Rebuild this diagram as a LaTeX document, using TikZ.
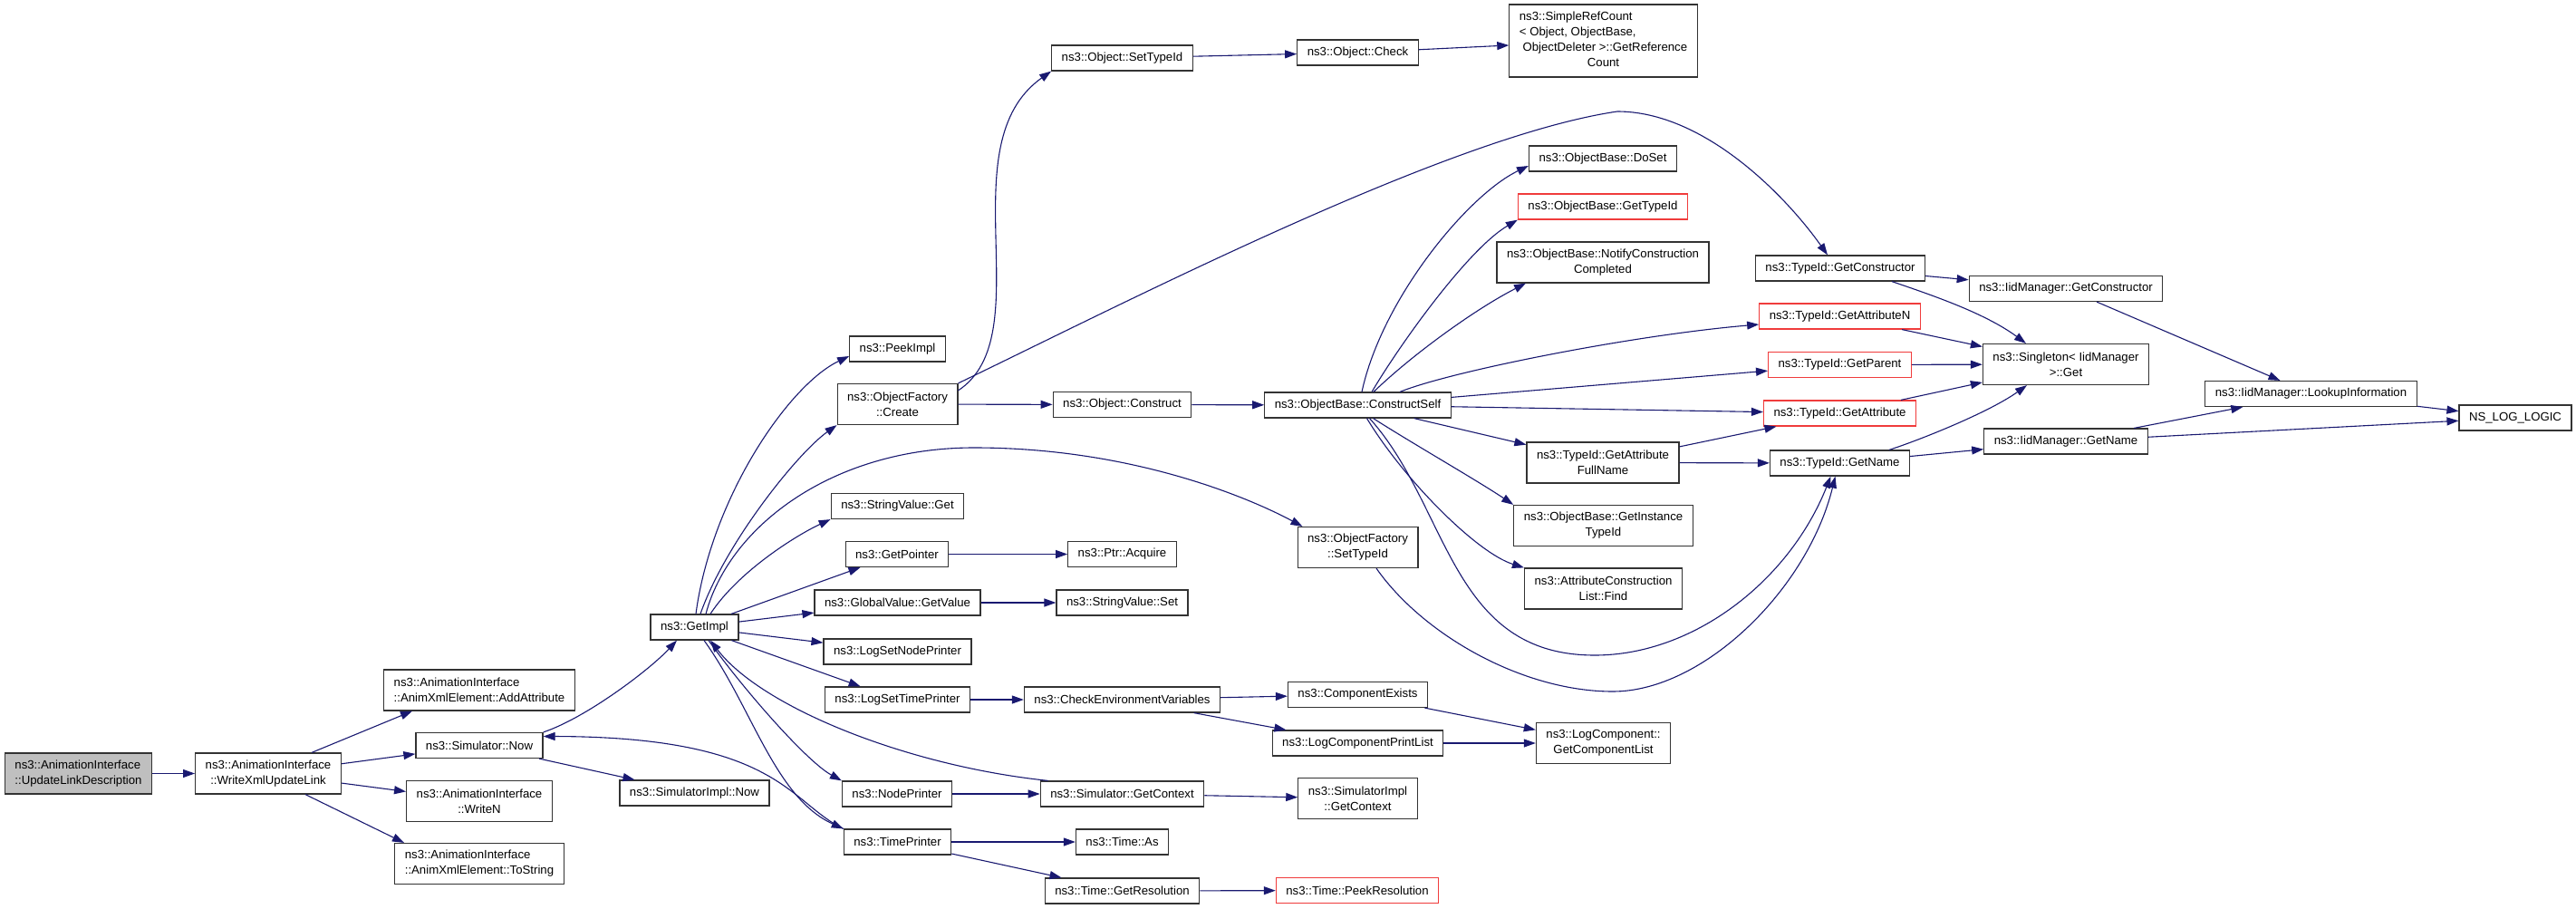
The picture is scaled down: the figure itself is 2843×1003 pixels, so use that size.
\documentclass[tikz,border=0pt]{standalone}
\usepackage{fontspec}
\setmainfont{Liberation Sans}
\usetikzlibrary{arrows.meta}

\definecolor{edgeblue}{HTML}{191970}
\definecolor{boxgray}{HTML}{333333}
\definecolor{boxred}{HTML}{F03C3C}
\definecolor{rootfill}{HTML}{BFBFBF}

\tikzset{
  fn/.style={draw=boxgray,line width=1.2pt,rectangle,inner xsep=11pt,inner ysep=3pt,
    minimum height=28pt,font=\fontsize{13.2}{17}\selectfont,align=center},
  dbl/.style={minimum height=45pt},
  undoc/.style={draw=boxred},
  root/.style={fill=rootfill},
  call/.style={->,draw=edgeblue,line width=1.1pt},
}

\begin{document}
\begin{tikzpicture}[x=1pt,y=-1pt,>={Triangle[length=13pt,width=9pt]}]
      \useasboundingbox (0,0) rectangle (2843,1003);
      % Caller and first level
      \node[fn,dbl,root,align=left] (uld) at (86.5,853.5) {ns3::AnimationInterface\\::UpdateLinkDescription};
      \node[fn,dbl] (wxul) at (296,853.5) {ns3::AnimationInterface\\::WriteXmlUpdateLink};
      \node[fn,dbl,align=left] (addattr) at (529,761.5) {ns3::AnimationInterface\\::AnimXmlElement::AddAttribute};
      \node[fn] (simnow) at (529,822.5) {ns3::Simulator::Now};
      \node[fn,dbl] (writen) at (529,884) {ns3::AnimationInterface\\::WriteN};
      \node[fn,dbl,align=left] (tostring) at (529,953) {ns3::AnimationInterface\\::AnimXmlElement::ToString};
      \node[fn] (getimpl) at (766.5,692) {ns3::GetImpl};
      \node[fn] (simimplnow) at (766.5,875) {ns3::SimulatorImpl::Now};
      % Called by GetImpl
      \node[fn] (peekimpl) at (990.5,385) {ns3::PeekImpl};
      \node[fn,dbl] (ofcreate) at (990.5,446) {ns3::ObjectFactory\\::Create};
      \node[fn] (svget) at (990.5,558.5) {ns3::StringValue::Get};
      \node[fn] (getpointer) at (990,611.5) {ns3::GetPointer};
      \node[fn] (gvgetvalue) at (990.5,665) {ns3::GlobalValue::GetValue};
      \node[fn] (logsetnode) at (990.5,719) {ns3::LogSetNodePrinter};
      \node[fn] (logsettime) at (990.5,772) {ns3::LogSetTimePrinter};
      \node[fn] (nodeprinter) at (990,876) {ns3::NodePrinter};
      \node[fn] (timeprinter) at (990.5,929) {ns3::TimePrinter};
      % Next column
      \node[fn] (objsettypeid) at (1238.5,64) {ns3::Object::SetTypeId};
      \node[fn] (objconstruct) at (1238.5,446.5) {ns3::Object::Construct};
      \node[fn] (ptracquire) at (1238.5,611.5) {ns3::Ptr::Acquire};
      \node[fn] (svset) at (1238.5,665) {ns3::StringValue::Set};
      \node[fn] (checkenv) at (1238.5,772) {ns3::CheckEnvironmentVariables};
      \node[fn] (simgetctx) at (1238.5,876) {ns3::Simulator::GetContext};
      \node[fn] (timeas) at (1238.5,929) {ns3::Time::As};
      \node[fn] (timegetres) at (1238.5,983) {ns3::Time::GetResolution};
      % Middle column
      \node[fn] (objcheck) at (1498.5,58) {ns3::Object::Check};
      \node[fn] (constructself) at (1498.5,447) {ns3::ObjectBase::ConstructSelf};
      \node[fn,dbl] (ofsettypeid) at (1498.5,604) {ns3::ObjectFactory\\::SetTypeId};
      \node[fn] (compexists) at (1498.5,766.5) {ns3::ComponentExists};
      \node[fn] (logcompprint) at (1498.5,820) {ns3::LogComponentPrintList};
      \node[fn,dbl] (simimplctx) at (1498.5,881) {ns3::SimulatorImpl\\::GetContext};
      \node[fn,undoc] (peekres) at (1498,982.5) {ns3::Time::PeekResolution};
      % ObjectBase column
      \node[fn,minimum height=80pt] (refcount) at (1769.5,45)
        {\begin{tabular}{@{}l@{}}ns3::SimpleRefCount\\< Object, ObjectBase,\\\ ObjectDeleter >::GetReference\\\multicolumn{1}{@{}c@{}}{Count}\end{tabular}};
      \node[fn] (doset) at (1769,175) {ns3::ObjectBase::DoSet};
      \node[fn,undoc] (obgettypeid) at (1769,228) {ns3::ObjectBase::GetTypeId};
      \node[fn,dbl] (notifyconst) at (1769,289.5) {ns3::ObjectBase::NotifyConstruction\\Completed};
      \node[fn,dbl] (getattrfull) at (1769,510.5) {ns3::TypeId::GetAttribute\\FullName};
      \node[fn,dbl] (getinstance) at (1769.5,580) {ns3::ObjectBase::GetInstance\\TypeId};
      \node[fn,dbl] (acfind) at (1769.5,649.5) {ns3::AttributeConstruction\\List::Find};
      \node[fn,dbl] (getcomplist) at (1769.5,820) {ns3::LogComponent::\\GetComponentList};
      % TypeId column
      \node[fn] (tidgetctor) at (2031,296) {ns3::TypeId::GetConstructor};
      \node[fn,undoc] (tidgetattrn) at (2030.5,349) {ns3::TypeId::GetAttributeN};
      \node[fn,undoc] (tidgetparent) at (2030.5,402.5) {ns3::TypeId::GetParent};
      \node[fn,undoc] (tidgetattr) at (2030.5,456) {ns3::TypeId::GetAttribute};
      \node[fn] (tidgetname) at (2030.5,511) {ns3::TypeId::GetName};
      % IidManager
      \node[fn] (iidgetctor) at (2280,318.5) {ns3::IidManager::GetConstructor};
      \node[fn,dbl] (singleton) at (2280,402) {ns3::Singleton< IidManager\\>::Get};
      \node[fn] (iidgetname) at (2280,487) {ns3::IidManager::GetName};
      \node[fn] (lookup) at (2550.5,434.5) {ns3::IidManager::LookupInformation};
      \node[fn] (nslog) at (2776,461) {NS\_LOG\_LOGIC};

      % Left part
      \draw[call] (uld) -- (wxul);
      \draw[call] ([xshift=48pt]wxul.north) -- ([xshift=-74pt]addattr.south);
      \draw[call] (wxul) -- (simnow);
      \draw[call] (wxul) -- (writen);
      \draw[call] ([xshift=41pt]wxul.south) -- ([xshift=-83pt]tostring.north);
      \draw[call] (simnow) -- (simimplnow);
      \draw[call] (simnow.north east) .. controls (647,792) and (717,739) .. ([xshift=-19.5pt]getimpl.south);
      \draw[call] (timeprinter.north west) .. controls (870,885) and (860,813) .. ([yshift=10pt]simnow.east);
      % GetImpl
      \draw[call] ([xshift=1.5pt]getimpl.north) .. controls (785,550) and (870,425) .. ([yshift=-8pt]peekimpl.west);
      \draw[call] ([xshift=6.5pt]getimpl.north) .. controls (800,600) and (880,500) .. (ofcreate.south west);
      \draw[call] ([xshift=12.5pt]getimpl.north) .. controls (805,580) and (920,494) .. (1075,494)
        .. controls (1250,494) and (1380,550) .. ([xshift=6pt]ofsettypeid.north west);
      \draw[call] ([xshift=17.5pt]getimpl.north) .. controls (815,630) and (880,590) .. (svget.south west);
      \draw[call] (getimpl) -- (getpointer);
      \draw[call] (getimpl) -- (gvgetvalue);
      \draw[call] (getimpl) -- (logsetnode);
      \draw[call] (getimpl) -- (logsettime);
      \draw[call] ([xshift=15.5pt]getimpl.south) .. controls (820,760) and (890,840) .. (nodeprinter.north west);
      \draw[call] ([xshift=10.5pt]getimpl.south) .. controls (830,780) and (855,880) .. (timeprinter.north west);
      \draw[call] ([xshift=9pt]simgetctx.north west) .. controls (1000,845) and (840,780) .. ([xshift=17.5pt]getimpl.south);
      % ObjectFactory::Create
      \draw[call] ([yshift=-8pt]ofcreate.north east) .. controls (1150,370) and (1045,160) .. (objsettypeid.south west);
      \draw[call] (ofcreate.north east) .. controls (1250,330) and (1600,150) .. (1785,123)
        .. controls (1880,123) and (1970,215) .. ([xshift=-14pt]tidgetctor.north);
      \draw[call] (ofcreate) -- (objconstruct);
      \draw[call] (objsettypeid) -- (objcheck);
      \draw[call] (objcheck) -- (refcount);
      \draw[call] (objconstruct) -- (constructself);
      % ConstructSelf
      \draw[call] ([xshift=4.5pt]constructself.north) .. controls (1525,330) and (1620,215) .. ([yshift=-8pt]doset.west);
      \draw[call] ([xshift=15.5pt]constructself.north) .. controls (1545,380) and (1620,275) .. (obgettypeid.south west);
      \draw[call] ([xshift=17.5pt]constructself.north) .. controls (1560,390) and (1630,340) .. ([xshift=-85pt]notifyconst.south);
      \draw[call] ([xshift=46.5pt]constructself.north) .. controls (1600,410) and (1800,370) .. ([yshift=-9pt]tidgetattrn.west);
      \draw[call] (constructself) -- (tidgetparent);
      \draw[call] (constructself) -- (tidgetattr);
      \draw[call] (constructself) -- (getattrfull);
      \draw[call] ([xshift=17pt]constructself.south) .. controls (1560,490) and (1630,530) .. (getinstance.north west);
      \draw[call] ([xshift=10pt]constructself.south) .. controls (1550,530) and (1630,610) .. (acfind.north west);
      \draw[call] ([xshift=13pt]constructself.south) .. controls (1600,560) and (1600,723) .. (1760,723)
        .. controls (1870,723) and (1975,640) .. ([xshift=-10pt]tidgetname.south);
      \draw[call] ([xshift=20.5pt]ofsettypeid.south) .. controls (1570,700) and (1680,763) .. (1780,763)
        .. controls (1880,763) and (1995,650) .. ([xshift=-5pt]tidgetname.south);
      % TypeId and IidManager
      \draw[call] (getattrfull) -- (tidgetattr);
      \draw[call] (getattrfull) -- (tidgetname);
      \draw[call] (tidgetctor) -- (iidgetctor);
      \draw[call] ([xshift=57pt]tidgetctor.south) .. controls (2130,325) and (2190,345) .. ([xshift=-44pt]singleton.north);
      \draw[call] (tidgetattrn) -- (singleton);
      \draw[call] (tidgetparent) -- (singleton);
      \draw[call] (tidgetattr) -- (singleton);
      \draw[call] ([xshift=54.5pt]tidgetname.north) .. controls (2120,485) and (2195,455) .. ([xshift=-43pt]singleton.south);
      \draw[call] (tidgetname) -- (iidgetname);
      \draw[call] (iidgetctor) -- (lookup);
      \draw[call] (iidgetname) -- (lookup);
      \draw[call] (iidgetname) -- (nslog);
      \draw[call] (lookup) -- (nslog);
      % Lower part
      \draw[call] (getpointer) -- (ptracquire);
      \draw[call] (gvgetvalue) -- (svset);
      \draw[call] (logsettime) -- (checkenv);
      \draw[call] (checkenv) -- (compexists);
      \draw[call] (checkenv) -- (logcompprint);
      \draw[call] (compexists) -- (getcomplist);
      \draw[call] (logcompprint) -- (getcomplist);
      \draw[call] (nodeprinter) -- (simgetctx);
      \draw[call] (simgetctx) -- (simimplctx);
      \draw[call] (timeprinter) -- (timeas);
      \draw[call] (timeprinter) -- (timegetres);
      \draw[call] (timegetres) -- (peekres);
    \end{tikzpicture}
\end{document}
